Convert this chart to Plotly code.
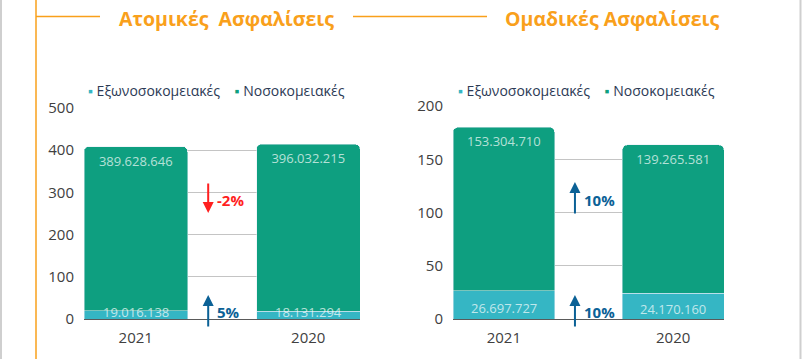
import plotly.graph_objects as go

W, H = 802, 359

categories = ["2021", "2020"]
series_names = ["Εξωνοσοκομειακές", "Νοσοκομειακές"]
atomikes_ekso = [19.016138, 18.131294]
atomikes_noso = [389.628646, 396.032215]
omadikes_ekso = [26.697727, 24.170160]
omadikes_noso = [153.304710, 139.265581]
titles = ["Ατομικές\u00a0 Ασφαλίσεις", "Ομαδικές Ασφαλίσεις"]

C_EKSO = "#35b6c4"
C_NOSO = "#0e9f80"
C_ORANGE = "#f9a01b"
C_UP = "#0b6196"
C_DOWN = "#ff1f1f"
LABEL_COL = "rgba(255,255,255,0.7)"
FONT = "Open Sans"


def fmt(v):
    n = int(round(v * 1e6))
    return f"{n:,}".replace(",", ".")


def px(x):
    return x / W


def py(y):
    return (H - y) / H


fig = go.Figure()

panels = [
    dict(ekso=atomikes_ekso, noso=atomikes_noso, xa="x", ya="y",
         xdom=[px(84), px(360)], ydom=[py(319), py(108)], yrange=[0, 500], dtick=100),
    dict(ekso=omadikes_ekso, noso=omadikes_noso, xa="x2", ya="y2",
         xdom=[px(453), px(724)], ydom=[py(319), py(106)], yrange=[0, 200], dtick=50),
]

annotations = []
for i, p in enumerate(panels):
    fig.add_trace(go.Bar(
        x=categories, y=p["ekso"], name=series_names[0], marker_color=C_EKSO,
        xaxis=p["xa"], yaxis=p["ya"], showlegend=False, hoverinfo="skip",
    ))
    fig.add_trace(go.Bar(
        x=categories, y=p["noso"], name=series_names[1], marker_color=C_NOSO,
        xaxis=p["xa"], yaxis=p["ya"], showlegend=False, hoverinfo="skip",
        text=[fmt(v) for v in p["noso"]], textposition="inside",
        insidetextanchor="end", textangle=0,
        insidetextfont=dict(family=FONT, size=13, color=LABEL_COL),
    ))
    for k, v in enumerate(p["ekso"]):
        annotations.append(dict(
            x=k, y=v / 2, xref=p["xa"], yref=p["ya"], text=fmt(v), showarrow=False,
            font=dict(family=FONT, size=13, color=LABEL_COL), yanchor="middle",
            xanchor="center", yshift=3 if i == 0 else -3,
        ))
    ch_ekso = round((p["ekso"][0] / p["ekso"][1] - 1) * 100)
    ch_noso = round((p["noso"][0] / p["noso"][1] - 1) * 100)
    ax_x = 0.42
    for ch, lower, txt_shift in [(ch_ekso, True, 7), (ch_noso, False, 119)]:
        col = C_UP if ch >= 0 else C_DOWN
        if lower:
            head_shift, ay = 24, 33
        elif ch >= 0:
            head_shift, ay = 137, 33
        else:
            head_shift, ay = 106, -31
        annotations.append(dict(
            x=ax_x, y=0, xref=p["xa"], yref=p["ya"], text="", showarrow=True,
            ax=0, ay=ay, axref="pixel", ayref="pixel", yshift=head_shift,
            arrowhead=2, arrowsize=1.1, arrowwidth=2, arrowcolor=col, standoff=0,
        ))
        annotations.append(dict(
            x=ax_x, y=0, xref=p["xa"], yref=p["ya"], text=f"<b>{ch}%</b>",
            showarrow=False, xanchor="left", yanchor="middle", xshift=7, yshift=txt_shift,
            font=dict(family=FONT, size=15, color=col),
        ))

    ax_suffix = "" if i == 0 else "2"
    fig.update_layout(**{
        f"xaxis{ax_suffix}": dict(
            domain=p["xdom"], type="category", range=[-0.3, 1.3], showgrid=False,
            showline=False, ticks="", tickfont=dict(family=FONT, size=15, color="#404040"),
            anchor=p["ya"], fixedrange=True, automargin=False, ticklabelstandoff=8,
        ),
        f"yaxis{ax_suffix}": dict(
            domain=p["ydom"], range=p["yrange"], dtick=p["dtick"], showgrid=True,
            gridcolor="#c4c4c4", gridwidth=1, zeroline=True, zerolinecolor="#5a5a5a",
            zerolinewidth=1, showline=False, ticks="",
            tickfont=dict(family=FONT, size=15, color="#404040"),
            anchor=p["xa"], fixedrange=True, automargin=False, ticklabelstandoff=9,
        ),
    })

for lx in [86, 456]:
    annotations.append(dict(
        x=px(lx), y=py(90), xref="paper", yref="paper", xanchor="left", yanchor="middle",
        showarrow=False,
        text=(f'<span style="color:{C_EKSO}">▪</span> {series_names[0]}'
              f'\u00a0\u00a0\u00a0 <span style="color:{C_NOSO}">▪</span> {series_names[1]}'),
        font=dict(family=FONT, size=14, color="#2c3a55"),
    ))

for tx, t in zip([226, 612], titles):
    annotations.append(dict(
        x=px(tx), y=py(18), xref="paper", yref="paper", xanchor="center", yanchor="middle",
        showarrow=False, text=f"<b>{t}</b>",
        font=dict(family=FONT, size=19.5, color=C_ORANGE),
    ))

shapes = [
    dict(type="line", xref="paper", yref="paper", x0=px(36), x1=px(36), y0=0, y1=1,
         line=dict(color=C_ORANGE, width=1.5)),
    dict(type="line", xref="paper", yref="paper", x0=px(36), x1=px(100), y0=py(16.5), y1=py(16.5),
         line=dict(color=C_ORANGE, width=1.5)),
    dict(type="line", xref="paper", yref="paper", x0=px(353), x1=px(487), y0=py(16.5), y1=py(16.5),
         line=dict(color=C_ORANGE, width=1.5)),
    dict(type="line", xref="paper", yref="paper", x0=px(1), x1=px(1), y0=0, y1=1,
         line=dict(color="#cfcfcf", width=2)),
    dict(type="line", xref="paper", yref="paper", x0=px(800.5), x1=px(800.5), y0=0, y1=1,
         line=dict(color="#cfcfcf", width=2)),
]

fig.update_layout(
    width=W, height=H, autosize=False,
    margin=dict(l=0, r=0, t=0, b=0, pad=0, autoexpand=False),
    barmode="stack", bargap=0.4, barcornerradius=5,
    paper_bgcolor="white", plot_bgcolor="white",
    showlegend=False,
    annotations=annotations, shapes=shapes,
    font=dict(family=FONT),
)

fig.write_html(
    "out.html",
    config={"displayModeBar": False},
    post_script="document.body.style.margin='0';document.body.style.overflow='hidden';",
)
